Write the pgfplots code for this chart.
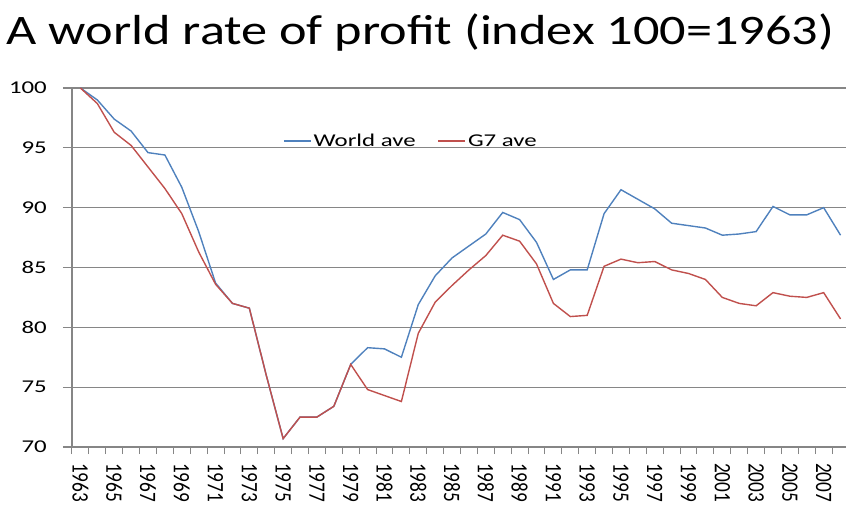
\documentclass[border=0pt]{standalone}
\usepackage{fontspec}
\setmainfont{Carlito}
\newfontfamily\titlefont[FakeStretch=1.245]{Carlito}
\newfontfamily\tickfont[FakeStretch=1.38]{Carlito}
\newfontfamily\xtickfont[FakeStretch=0.82]{Carlito}
\usepackage{pgfplots}
\pgfplotsset{compat=1.18}
\usepackage{pgfplotstable}
\definecolor{worldblue}{RGB}{79,129,189}
\definecolor{gsred}{RGB}{192,80,77}
\definecolor{gridgray}{RGB}{134,134,134}

\pgfplotstableread{
year world g7
1963 100.0 100.0
1964 99.0 98.7
1965 97.4 96.3
1966 96.4 95.2
1967 94.6 93.4
1968 94.4 91.6
1969 91.7 89.5
1970 88.0 86.3
1971 83.7 83.6
1972 82.0 82.0
1973 81.6 81.6
1974 76.0 76.0
1975 70.7 70.7
1976 72.5 72.5
1977 72.5 72.5
1978 73.4 73.4
1979 76.9 76.9
1980 78.3 74.8
1981 78.2 74.3
1982 77.5 73.8
1983 81.9 79.5
1984 84.3 82.1
1985 85.8 83.5
1986 86.8 84.8
1987 87.8 86.0
1988 89.6 87.7
1989 89.0 87.2
1990 87.1 85.3
1991 84.0 82.0
1992 84.8 80.9
1993 84.8 81.0
1994 89.5 85.1
1995 91.5 85.7
1996 90.7 85.4
1997 89.9 85.5
1998 88.7 84.8
1999 88.5 84.5
2000 88.3 84.0
2001 87.7 82.5
2002 87.8 82.0
2003 88.0 81.8
2004 90.1 82.9
2005 89.4 82.6
2006 89.4 82.5
2007 90.0 82.9
2008 87.7 80.7
}\datatable

\begin{document}
\begin{tikzpicture}
\path[use as bounding box] (-72pt,-59pt) rectangle (774pt,447pt);
\begin{axis}[
  at={(0pt,0pt)}, anchor=south west,
  scale only axis,
  width=777pt, height=359pt,
  xmin=1962.5, xmax=2008.5,
  ymin=70, ymax=100,
  clip=false,
  axis x line=bottom, axis y line=left,
  axis line style={-, draw=gridgray, line width=1.1pt},
  ytick={70,75,...,100},
  ymajorgrids,
  major grid style={draw=gridgray, line width=1.1pt},
  xtick={1963,1965,...,2007},
  minor xtick={1962.5,1963.5,...,2008.5},
  x tick style={draw=gridgray, line width=1pt},
  y tick style={draw=gridgray, line width=1.1pt},
  tick align=outside,
  major x tick style={draw=none},
  minor tick length=7pt,
  major tick length=9pt,
  /pgf/number format/1000 sep={},
  /pgf/number format/assume math mode=true,
  yticklabel style={font=\tickfont\fontsize{18}{18}\selectfont, anchor=east, inner sep=0pt, xshift=-16pt},
  xticklabel style={font=\xtickfont\fontsize{23.5}{23.5}\selectfont, rotate=-90, anchor=west, inner sep=0pt, xshift=7pt},
  title={A world rate of profit (index 100=1963)},
  title style={at={(0.4485,1.1031)}, anchor=base, font=\titlefont\fontsize{42}{42}\selectfont, inner sep=0pt},
  legend style={at={(0.2716,0.852)}, anchor=west, draw=none, fill=none,
    font=\tickfont\fontsize{18}{18}\selectfont, inner sep=0pt,
    nodes={inner xsep=2pt, inner ysep=0pt}},
  legend columns=2,
  legend cell align=left,
  /tikz/every even column/.append style={column sep=20pt},
  legend image code/.code={\draw[#1] (0pt,0pt) -- (27pt,0pt);},
]
\addplot[color=worldblue, line width=1.4pt] table[x=year, y=world] {\datatable};
\addlegendentry{World ave}
\addplot[color=gsred, line width=1.4pt] table[x=year, y=g7] {\datatable};
\addlegendentry{G7 ave}
\end{axis}
\end{tikzpicture}
\end{document}
